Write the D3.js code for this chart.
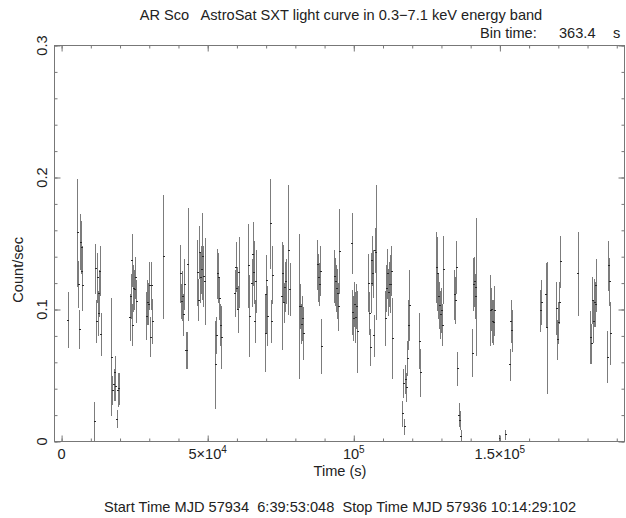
<!DOCTYPE html>
<html><head><meta charset="utf-8">
<script src="https://cdn.jsdelivr.net/npm/d3@7"></script>
<style>
html,body{margin:0;padding:0;background:#fff;}
text{font-family:"Liberation Sans",Arial,Helvetica,sans-serif;fill:#222;}
</style></head>
<body><svg id="c" width="626" height="518"></svg>
<script>
// Time (s) of each bin centre
const times = [
2304,
5612,5841,6297,6639,6868,7094,7323,
11430,11772,12114,12343,12685,12911,13253,13595,
17247,17589,18045,18387,18616,19071,19413,19755,
23519,23861,24203,24433,24775,25117,25347,25689,
29224,29566,29908,30250,30593,30935,31277,
35041,
40858,41200,41543,41885,42227,42683,43025,43367,
46676,47018,47360,47702,48044,48387,48729,49185,
52835,53177,53519,53862,54204,54546,54888,
59451,59793,60135,60477,60820,
64014,64356,65268,65610,65953,66295,66637,
69945,70059,70288,70630,71657,71999,72341,
75524,75866,76208,76550,76893,77817,78261,
81583,81925,82267,82609,82951,
87740,88082,88424,88766,89109,
93444,93786,94128,94470,94812,95268,
99487,99716,100058,100400,100742,101085,101427,
105078,105420,105762,106104,106332,106674,107016,107359,107701,
110896,111238,111580,111922,112264,112606,112948,113404,
116827,117169,117511,117853,118195,118537,118880,119222,
122644,122986,
128461,128689,129031,129373,129716,130058,130400,130856,
134620,134963,135305,135647,136103,136445,136787,
140781,141123,141465,141694,141922,
146942,147284,147626,147968,148310,
150022,152075,
153543,153886,154228,
164051,164393,165873,166216,
169528,169870,170098,170440,170782,
176828,
181158,181500,181728,182070,182412,182755,182983,
186977,187319,187661,188003
];
// Count rate (count/s)
const rates = [
0.092,
0.158,0.119,0.085,0.151,0.147,0.129,0.118,
0.015,0.131,0.091,0.124,0.097,0.112,0.129,0.081,
0.064,0.039,0.043,0.052,0.042,0.017,0.039,0.040,
0.094,0.110,0.137,0.088,0.116,0.115,0.124,0.106,
0.095,0.105,0.104,0.118,0.079,0.118,0.091,
0.140,
0.127,0.106,0.110,0.096,0.119,0.069,0.069,0.134,
0.128,0.107,0.143,0.124,0.130,0.140,0.125,0.121,
0.058,0.080,0.127,0.124,0.108,0.088,0.079,
0.112,0.132,0.116,0.100,0.128,
0.133,0.095,0.120,0.142,0.128,0.091,0.121,
0.082,0.111,0.122,0.095,0.165,0.091,0.126,
0.110,0.127,0.105,0.117,0.121,0.145,0.115,
0.102,0.102,0.089,0.093,0.082,
0.134,0.124,0.119,0.129,0.072,
0.125,0.121,0.116,0.112,0.102,0.144,
0.150,0.098,0.093,0.104,0.094,0.102,0.083,
0.120,0.097,0.071,0.120,0.137,0.127,0.080,0.145,0.143,
0.093,0.116,0.127,0.113,0.119,0.119,0.129,0.078,
0.021,0.044,0.011,0.047,0.041,0.063,0.088,0.103,
0.076,0.052,
0.132,0.127,0.110,0.103,0.096,0.099,0.088,0.130,
0.111,0.107,0.132,0.055,0.020,0.016,0.004,
0.067,0.119,0.121,0.110,0.117,
0.099,0.100,0.091,0.090,0.099,
0.002,0.005,
0.058,0.091,0.084,
0.099,0.105,0.111,0.086,
0.101,0.077,0.090,0.105,0.136,
0.127,
0.079,0.074,0.107,0.091,0.105,0.104,0.118,
0.064,0.133,0.121,0.082
];
// 1-sigma error on the rate
const errors = [
0.021,
0.041,0.018,0.015,0.021,0.020,0.019,0.019,
0.015,0.019,0.016,0.019,0.017,0.018,0.019,0.016,
0.045,0.011,0.012,0.013,0.011,0.007,0.013,0.012,
0.018,0.017,0.020,0.016,0.018,0.015,0.016,0.016,
0.018,0.017,0.016,0.018,0.015,0.018,0.017,
0.047,
0.022,0.013,0.019,0.016,0.019,0.014,0.014,0.043,
0.025,0.016,0.020,0.019,0.018,0.033,0.023,0.033,
0.033,0.014,0.019,0.019,0.016,0.016,0.024,
0.018,0.019,0.016,0.018,0.027,
0.032,0.031,0.018,0.024,0.024,0.016,0.024,
0.029,0.029,0.019,0.023,0.034,0.016,0.022,
0.041,0.022,0.015,0.019,0.017,0.049,0.020,
0.055,0.017,0.015,0.017,0.020,
0.019,0.018,0.016,0.019,0.021,
0.020,0.018,0.018,0.019,0.018,0.032,
0.023,0.017,0.017,0.017,0.019,0.017,0.031,
0.022,0.016,0.014,0.023,0.019,0.018,0.016,0.017,0.051,
0.021,0.018,0.019,0.018,0.017,0.022,0.019,0.031,
0.010,0.011,0.006,0.011,0.011,0.013,0.019,0.027,
0.021,0.018,
0.027,0.028,0.017,0.018,0.018,0.017,0.016,0.026,
0.019,0.018,0.020,0.013,0.009,0.007,0.005,
0.018,0.020,0.019,0.017,0.052,
0.027,0.016,0.016,0.017,0.019,
0.003,0.004,
0.012,0.016,0.016,
0.016,0.017,0.024,0.050,
0.020,0.015,0.016,0.016,0.020,
0.032,
0.020,0.015,0.018,0.016,0.018,0.017,0.020,
0.020,0.019,0.018,0.024
];
const binTime = 363.4;
const xMajor = [0, 50000, 100000, 150000];
const xMajorLabels = [["0",""],["5×10","4"],["10","5"],["1.5×10","5"]];
const xMinor = d3.range(0, 190001, 10000);
const yMajor = [0, 0.1, 0.2, 0.3];
const yMajorLabels = ["0","0.1","0.2","0.3"];
const yMinor = d3.range(0, 0.3001, 0.02);

const svg = d3.select("#c");
const L = 54.5, R = 624.5, T = 45.5, B = 441.5;
const x = d3.scaleLinear().domain([-2430, 192650]).range([L, R]);
const y = d3.scaleLinear().domain([0, 0.3]).range([B, T]);
const axisCol = "#777";
const FS = 14.6;

const data = times.map((t,i)=>({t, r: rates[i], e: errors[i]}));

// error bars
const g = svg.append("g");
g.selectAll("line.eb").data(data).join("line").attr("class","eb")
  .attr("x1", d=>x(d.t)).attr("x2", d=>x(d.t))
  .attr("y1", d=>y(Math.max(0,d.r-d.e))).attr("y2", d=>y(d.r+d.e))
  .attr("stroke","#7c7c7c").attr("stroke-width",1).attr("shape-rendering","crispEdges");
g.selectAll("line.pt").data(data).join("line").attr("class","pt")
  .attr("x1", d=>x(d.t-binTime/2)).attr("x2", d=>x(d.t+binTime/2))
  .attr("y1", d=>y(d.r)).attr("y2", d=>y(d.r))
  .attr("stroke","#2a2a2a").attr("stroke-width",1).attr("stroke-linecap","square")
  .attr("shape-rendering","crispEdges");

// ticks
function addAxis(axis, transform){
  const a = svg.append("g").attr("transform", transform).call(axis);
  a.select(".domain").remove();
  a.selectAll("line").attr("stroke", axisCol);
  a.selectAll("text").remove();
}
addAxis(d3.axisBottom(x).tickValues(xMinor).tickSize(-3), `translate(0,${B})`);
addAxis(d3.axisBottom(x).tickValues(xMajor).tickSize(-6), `translate(0,${B})`);
addAxis(d3.axisTop(x).tickValues(xMinor).tickSize(-3), `translate(0,${T})`);
addAxis(d3.axisTop(x).tickValues(xMajor).tickSize(-6), `translate(0,${T})`);
addAxis(d3.axisLeft(y).tickValues(yMinor).tickSize(-3), `translate(${L},0)`);
addAxis(d3.axisLeft(y).tickValues(yMajor).tickSize(-6), `translate(${L},0)`);
addAxis(d3.axisRight(y).tickValues(yMinor).tickSize(-3), `translate(${R},0)`);
addAxis(d3.axisRight(y).tickValues(yMajor).tickSize(-6), `translate(${R},0)`);

svg.append("rect").attr("x",L).attr("y",T).attr("width",R-L).attr("height",B-T)
  .attr("fill","none").attr("stroke",axisCol).attr("stroke-width",1);

// x tick labels
xMajor.forEach((v,i)=>{
  const t = svg.append("text").attr("x", x(v)).attr("y", 459)
    .attr("text-anchor","middle").attr("font-size",FS);
  t.append("tspan").text(xMajorLabels[i][0]);
  if (xMajorLabels[i][1]) t.append("tspan").attr("font-size",10).attr("dy",-6).text(xMajorLabels[i][1]);
});
// y tick labels
yMajor.forEach((v,i)=>{
  svg.append("text").attr("transform",`translate(47,${y(v)}) rotate(-90)`)
    .attr("text-anchor","middle").attr("font-size",FS).text(yMajorLabels[i]);
});

svg.append("text").attr("x",340).attr("y",476).attr("text-anchor","middle")
  .attr("font-size",FS).text("Time (s)");
svg.append("text").attr("transform",`translate(23,${y(0.13)}) rotate(-90)`)
  .attr("text-anchor","middle").attr("font-size",FS).text("Count/sec");
svg.append("text").attr("x",341).attr("y",20).attr("text-anchor","middle")
  .attr("font-size",FS).attr("xml:space","preserve")
  .text("AR Sco   AstroSat SXT light curve in 0.3\u22127.1 keV energy band");
svg.append("text").attr("x",480).attr("y",38).attr("font-size",FS).text("Bin time:");
svg.append("text").attr("x",559).attr("y",38).attr("font-size",FS).text("363.4");
svg.append("text").attr("x",613).attr("y",38).attr("font-size",FS).text("s");
svg.append("text").attr("x",340).attr("y",512).attr("text-anchor","middle")
  .attr("font-size",FS).attr("xml:space","preserve")
  .text("Start Time MJD 57934  6:39:53:048  Stop Time MJD 57936 10:14:29:102");
</script></body></html>
